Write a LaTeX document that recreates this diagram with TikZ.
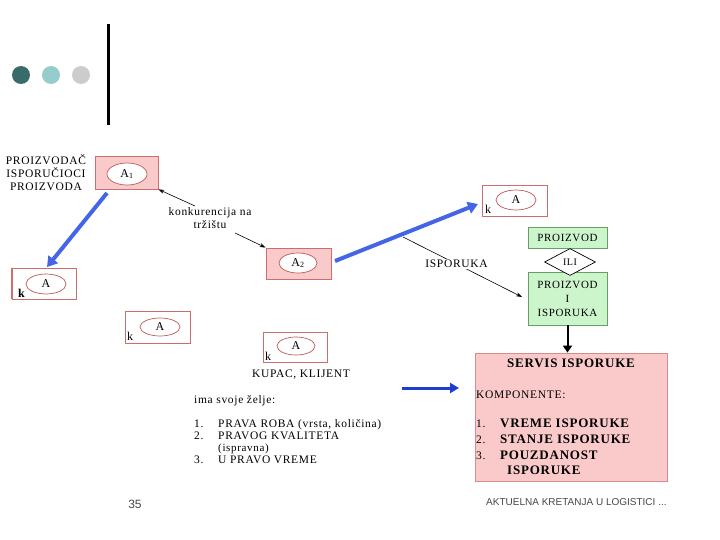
\documentclass[tikz,border=0pt]{standalone}
\usepackage{fontspec}
\setmainfont{Liberation Serif}[LetterSpace=6]
\newfontfamily\arialf{Liberation Sans}
\usetikzlibrary{shapes.geometric,arrows.meta}
\definecolor{boxpink}{RGB}{250,202,202}
\definecolor{boxred}{RGB}{205,110,110}
\definecolor{ovalred}{RGB}{190,90,90}
\definecolor{grnfill}{RGB}{204,245,204}
\definecolor{grnline}{RGB}{100,160,100}
\definecolor{arrblue}{RGB}{68,102,230}
\definecolor{arrdblue}{RGB}{30,60,210}
\definecolor{dotA}{RGB}{58,107,107}
\definecolor{dotB}{RGB}{150,204,204}
\definecolor{dotC}{RGB}{204,204,204}
\definecolor{footgrey}{RGB}{70,70,70}
\begin{document}
\begin{tikzpicture}[x=1pt,y=-1pt,
  pinkbox/.style={draw=boxred,fill=boxpink,line width=0.8pt,inner sep=0},
  whitebox/.style={draw=boxred,fill=white,line width=0.8pt,inner sep=0},
  oval/.style={ellipse,draw=ovalred,fill=white,line width=0.7pt,inner sep=0,font=\fontsize{12}{12}\selectfont},
  grnbox/.style={draw=grnline,fill=grnfill,line width=0.8pt,inner sep=0,align=center,font=\fontsize{11}{14}\selectfont},
  txt/.style={inner sep=0,font=\fontsize{11.5}{13}\selectfont},
  kl/.style={inner sep=0,anchor=base west,font=\fontsize{12}{12}\selectfont},
  thin/.style={draw=black,line width=0.6pt,-{Stealth[length=6pt,width=4pt]}},
  bluearr/.style={draw=arrblue,line width=4pt,-{Triangle[length=10pt,width=12pt]}},
]
\useasboundingbox (0,0) rectangle (720,540);
% decoration
\fill[dotA] (21,75) circle (9);
\fill[dotB] (51,75) circle (9);
\fill[dotC] (81,75) circle (9);
\draw[line width=3pt] (108,24) -- (108,125);

% top-left label
\node[txt,align=center] (prod) at (46,173) {PROIZVODAČ\\ISPORUČIOCI\\PROIZVODA};

% boxes
\node[pinkbox,minimum width=63,minimum height=33] (a1) at (126.5,172.5) {};
\node[oval,minimum width=40,minimum height=22] (a1o) at (127,174) {A\textsubscript{1}};

\node[whitebox,minimum width=64,minimum height=31] (kl1) at (44,283.5) {};
\draw[boxred,line width=1.6pt] (kl1.north west) -- (kl1.south west);
\node[oval,minimum width=40,minimum height=20] (kl1o) at (46,284) {A};
\node[kl,font=\fontsize{12}{12}\selectfont\bfseries] (k1) at (18,297) {k};

\node[whitebox,minimum width=65,minimum height=32] (kl2) at (157.5,327) {};
\node[oval,minimum width=40,minimum height=18] (kl2o) at (160,327) {A};
\node[kl] (k2) at (127,340) {k};

\node[whitebox,minimum width=64,minimum height=30] (kl3) at (295,347) {};
\node[oval,minimum width=38,minimum height=18] (kl3o) at (296,346) {A};
\node[kl] (k3) at (265,360) {k};

\node[pinkbox,minimum width=65,minimum height=31] (a2) at (298.5,263.5) {};
\node[oval,minimum width=38,minimum height=20] (a2o) at (298,263) {A\textsubscript{2}};

\node[whitebox,minimum width=65,minimum height=31] (kl4) at (514.5,200.5) {};
\node[oval,minimum width=40,minimum height=20] (kl4o) at (516,200) {A};
\node[kl] (k4) at (485,214) {k};

% konkurencija
\node[txt,align=center] (konk) at (210,218) {konkurencija na\\tržištu};
\coordinate (ka) at (195,206);
\coordinate (kb) at (235,233);
\draw[thin] (ka) -- (a1.south east);
\draw[thin] (kb) -- (a2.north west);

% blue arrows
\coordinate (b1s) at (107,193);
\coordinate (b1e) at (47,267);
\draw[bluearr] (b1s) -- (b1e);
\coordinate (b2s) at (335,261);
\coordinate (b2e) at (478,204);
\draw[bluearr] (b2s) -- (b2e);

% green
\node[grnbox,minimum width=79,minimum height=21] (g1) at (567.5,237.5) {PROIZVOD};
\node[grnbox,minimum width=79,minimum height=53] (g2) at (567.5,298.5) {PROIZVOD\\I\\ISPORUKA};
\node[diamond,draw=black,fill=white,line width=0.7pt,inner sep=0,minimum width=51,minimum height=27,font=\fontsize{10}{10}\selectfont] (ili) at (570,262) {ILI};

% isporuka
\coordinate (is) at (403,237);
\draw[thin] (is) -- (522,297) node[pos=0.45,fill=white,inner sep=1pt,font=\fontsize{11.5}{13}\selectfont] (isp) {ISPORUKA};

% servis box
\node[draw=boxred!80,fill=boxpink,line width=0.8pt,minimum width=192,minimum height=128,inner sep=0] (serv) at (571,417) {};
\draw[line width=2pt,-{Triangle[length=7pt,width=9pt]}] (g2.south) -- (g2.south |- serv.north);
\node[txt,font=\fontsize{13}{13}\selectfont\bfseries] (servt) at (571,363) {SERVIS ISPORUKE};
\node[txt,anchor=west] (komp) at (476,395) {KOMPONENTE:};
\node[txt,anchor=base west] (n1) at (476,427) {1.};
\node[txt,anchor=base west,font=\fontsize{13}{13}\selectfont\bfseries] (t1) at (500,427) {VREME ISPORUKE};
\node[txt,anchor=base west] (n2) at (476,443) {2.};
\node[txt,anchor=base west,font=\fontsize{13}{13}\selectfont\bfseries] (t2) at (500,443) {STANJE ISPORUKE};
\node[txt,anchor=base west] (n3) at (476,459) {3.};
\node[txt,anchor=base west,font=\fontsize{13}{13}\selectfont\bfseries] (t3) at (500,459) {POUZDANOST};
\node[txt,anchor=base west,font=\fontsize{13}{13}\selectfont\bfseries] (t3b) at (507,474) {ISPORUKE};

% kupac
\node[txt] (kup) at (301,375) {KUPAC, KLIJENT};
\node[txt,anchor=base west] (ima) at (194,403) {ima svoje želje:};
\node[txt,anchor=base west] (m1) at (194,427) {1.};
\node[txt,anchor=base west] (l1) at (218,427) {PRAVA ROBA (vrsta, količina)};
\node[txt,anchor=base west] (m2) at (194,439) {2.};
\node[txt,anchor=base west] (l2) at (218,439) {PRAVOG KVALITETA};
\node[txt,anchor=base west,font=\fontsize{11}{12}\selectfont] (l2b) at (218,451) {(ispravna)};
\node[txt,anchor=base west] (m3) at (194,463) {3.};
\node[txt,anchor=base west] (l3) at (218,463) {U PRAVO VREME};

\coordinate (kbs) at (402,388);
\coordinate (kbe) at (459,388);
\draw[draw=arrdblue,line width=3pt,-{Triangle[length=9pt,width=10pt]}] (kbs) -- (kbe);

% footer
\node[inner sep=0,font=\arialf\fontsize{12}{12}\selectfont,text=footgrey] (pg) at (135,504) {35};
\node[inner sep=0,anchor=west,font=\arialf\fontsize{10}{10}\selectfont,text=footgrey] (ft) at (486,502) {AKTUELNA KRETANJA U LOGISTICI ...};
\end{tikzpicture}
\end{document}
